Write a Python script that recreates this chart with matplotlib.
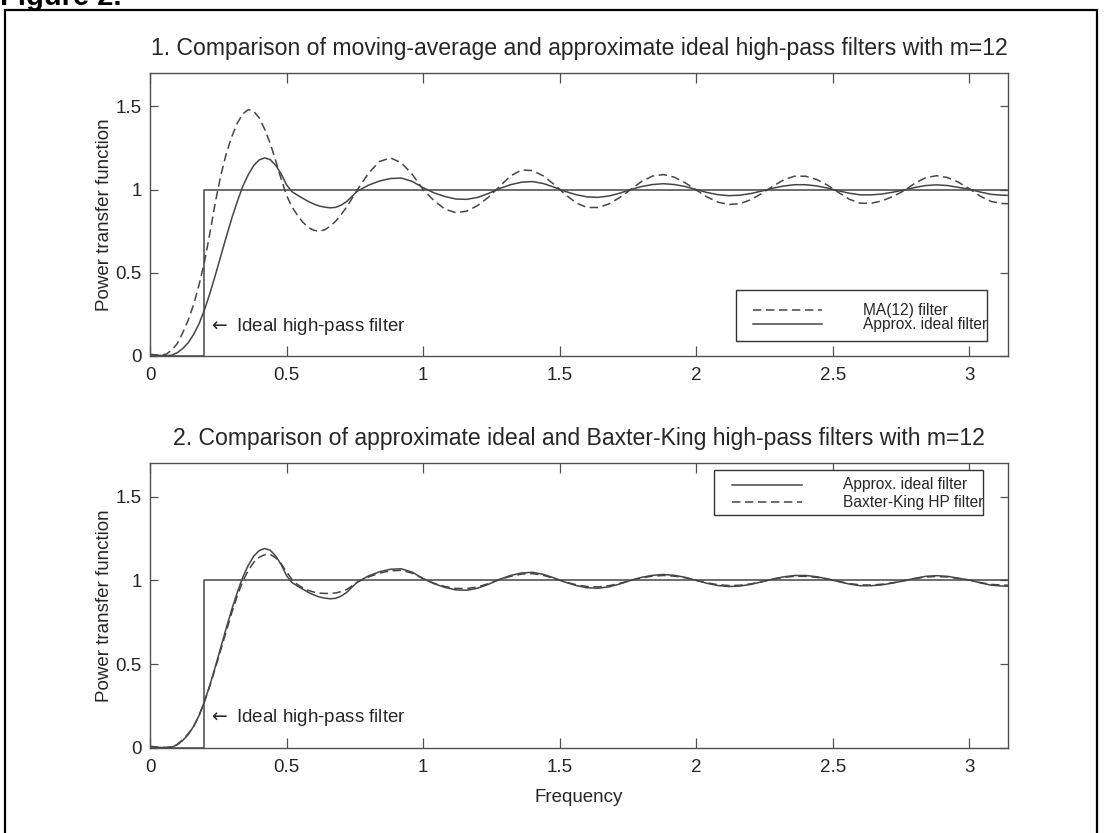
import matplotlib
matplotlib.use("Agg")
import matplotlib.pyplot as plt
from matplotlib.patches import Rectangle

plt.rcParams['font.family'] = ['Liberation Sans', 'DejaVu Sans']

# ---------------- data ----------------
freq = [0.00, 0.02, 0.04, 0.06, 0.08, 0.10, 0.12, 0.14, 0.16, 0.18,
        0.20, 0.22, 0.24, 0.26, 0.28, 0.30, 0.32, 0.34, 0.36, 0.38,
        0.40, 0.42, 0.44, 0.46, 0.48, 0.50, 0.52, 0.54, 0.56, 0.58,
        0.60, 0.62, 0.64, 0.66, 0.68, 0.70,
        0.72, 0.76,
        0.80, 0.84, 0.88, 0.92, 0.96, 1.00, 1.04, 1.08, 1.12, 1.16,
        1.20, 1.24, 1.28, 1.32, 1.36, 1.40, 1.44, 1.48, 1.52, 1.56,
        1.60, 1.64, 1.68, 1.72, 1.76, 1.80, 1.84, 1.88, 1.92, 1.96,
        2.00, 2.04, 2.08, 2.12, 2.16, 2.20, 2.24, 2.28, 2.32, 2.36,
        2.40, 2.44, 2.48, 2.52, 2.56, 2.60, 2.64, 2.68, 2.72, 2.76,
        2.80, 2.84, 2.88, 2.92, 2.96, 3.00, 3.04, 3.08, 3.12, 3.1416]

approx_ideal = [0.010, 0.006, 0.003, 0.002, 0.005, 0.020, 0.045, 0.080, 0.130, 0.195,
                0.280, 0.380, 0.490, 0.605, 0.720, 0.830, 0.930, 1.020, 1.090, 1.145,
                1.178, 1.190, 1.180, 1.146, 1.095, 1.028, 0.987, 0.966, 0.947, 0.928,
                0.913, 0.901, 0.894, 0.890, 0.893, 0.906,
                0.928, 0.991,
                1.026, 1.051, 1.066, 1.069, 1.049, 1.011, 0.980, 0.958, 0.943, 0.941,
                0.953, 0.977, 1.006, 1.029, 1.044, 1.048, 1.036, 1.014, 0.989, 0.969,
                0.956, 0.953, 0.961, 0.978, 1.000, 1.018, 1.030, 1.035, 1.030, 1.018,
                1.000, 0.982, 0.969, 0.963, 0.966, 0.976, 0.991, 1.008, 1.021, 1.029,
                1.029, 1.022, 1.009, 0.993, 0.978, 0.968, 0.968, 0.973, 0.984, 0.997,
                1.012, 1.024, 1.028, 1.024, 1.013, 1.002, 0.985, 0.971, 0.966, 0.965]

ma12 = [0.010, 0.006, 0.004, 0.012, 0.035, 0.075, 0.140, 0.215, 0.310, 0.430,
        0.570, 0.745, 0.930, 1.090, 1.220, 1.320, 1.400, 1.455, 1.480, 1.470,
        1.430, 1.362, 1.277, 1.175, 1.065, 0.965, 0.895, 0.845, 0.803, 0.772,
        0.755, 0.750, 0.758, 0.780, 0.810, 0.850,
        0.895, 1.000,
        1.098, 1.168, 1.190, 1.161, 1.092, 1.000, 0.933, 0.882, 0.861, 0.870,
        0.904, 0.955, 1.018, 1.082, 1.117, 1.114, 1.082, 1.030, 0.971, 0.920,
        0.892, 0.892, 0.913, 0.952, 1.000, 1.048, 1.081, 1.090, 1.074, 1.040,
        0.997, 0.955, 0.924, 0.910, 0.915, 0.939, 0.976, 1.019, 1.058, 1.080,
        1.080, 1.061, 1.027, 0.984, 0.942, 0.918, 0.917, 0.932, 0.958, 0.992,
        1.037, 1.071, 1.083, 1.072, 1.044, 1.005, 0.960, 0.928, 0.916, 0.915]

baxter_king = [0.010, 0.006, 0.004, 0.004, 0.008, 0.022, 0.050, 0.085, 0.130, 0.195,
               0.280, 0.375, 0.480, 0.590, 0.700, 0.810, 0.910, 0.995, 1.060, 1.108,
               1.138, 1.153, 1.155, 1.135, 1.100, 1.050, 1.005, 0.975, 0.955, 0.940,
               0.930, 0.924, 0.922, 0.922, 0.925, 0.933,
               0.945, 0.990,
               1.020, 1.043, 1.057, 1.060, 1.043, 1.010, 0.983, 0.963, 0.952, 0.951,
               0.961, 0.981, 1.005, 1.024, 1.037, 1.040, 1.030, 1.012, 0.991, 0.974,
               0.963, 0.961, 0.968, 0.982, 1.000, 1.015, 1.025, 1.029, 1.025, 1.015,
               1.000, 0.985, 0.974, 0.969, 0.971, 0.979, 0.992, 1.007, 1.018, 1.024,
               1.024, 1.018, 1.008, 0.994, 0.981, 0.973, 0.972, 0.977, 0.986, 0.997,
               1.010, 1.020, 1.023, 1.020, 1.011, 1.002, 0.987, 0.976, 0.972, 0.971]

ideal_x = [0.0, 0.19635, 0.19635, 3.14159]
ideal_y = [0.0, 0.0, 1.0, 1.0]

x_ticks = [0, 0.5, 1, 1.5, 2, 2.5, 3]
x_ticklabels = ['0', '0.5', '1', '1.5', '2', '2.5', '3']
y_ticks = [0, 0.5, 1, 1.5]
y_ticklabels = ['0', '0.5', '1', '1.5']

titles = ["1. Comparison of moving-average and approximate ideal high-pass filters with m=12",
          "2. Comparison of approximate ideal and Baxter-King high-pass filters with m=12"]
legend_top = ["MA(12) filter", "Approx. ideal filter"]
legend_bot = ["Approx. ideal filter", "Baxter-King HP filter"]
annotation = r"$\leftarrow$ Ideal high-pass filter"

# ---------------- styling ----------------
W, H = 1104, 833
LC = '#454545'
SC = '#505050'
TC = '#262626'
DASH = (0, (5.5, 3.0))

fig = plt.figure(figsize=(W / 100, H / 100), dpi=100)
fig.patch.set_facecolor('white')

# page border
fig.patches.append(Rectangle((5 / W, -0.05), (1097 - 5) / W, 1 - 10 / H + 0.05,
                             transform=fig.transFigure, fill=False,
                             edgecolor='black', linewidth=1.6))
fig.text(0.0, 1 - 5 / H, "Figure 2.", fontsize=21, fontweight='bold',
         ha='left', va='baseline', color='black')


def px_axes(left, top, right, bottom):
    return [left / W, 1 - bottom / H, (right - left) / W, (bottom - top) / H]


ax1 = fig.add_axes(px_axes(150, 73, 1008, 356))
ax2 = fig.add_axes(px_axes(150, 463, 1008, 748))


def style(ax, title):
    ax.set_xlim(0, 3.14159)
    ax.set_ylim(0, 1.7)
    ax.set_xticks(x_ticks)
    ax.set_xticklabels(x_ticklabels)
    ax.set_yticks(y_ticks)
    ax.set_yticklabels(y_ticklabels)
    ax.tick_params(axis='both', direction='in', top=True, right=True,
                   labelsize=13.5, colors=SC, labelcolor=TC, width=0.9)
    ax.tick_params(axis='x', length=7, pad=8)
    ax.tick_params(axis='y', length=6, pad=6)
    for s in ax.spines.values():
        s.set_color(SC)
        s.set_linewidth(1.0)
    ax.set_title(title, fontsize=16.6, color=TC, pad=13)
    ax.set_ylabel("Power transfer function", fontsize=13.5, color=TC, labelpad=1.5)
    ax.text(0.212, 0.18, annotation, fontsize=13.5,
            color=TC, ha='left', va='center')


def manual_legend(ax, box, rows, hx, tx, styles, labels):
    x0, y0, x1, y1 = box
    ax.add_patch(Rectangle((x0, y0), x1 - x0, y1 - y0, transform=ax.transAxes,
                           facecolor='white', edgecolor='#333333', linewidth=1.0,
                           zorder=5, clip_on=False))
    for yr, ls, lab in zip(rows, styles, labels):
        ax.plot(hx, [yr, yr], transform=ax.transAxes, color=LC, linewidth=1.1,
                linestyle=ls, zorder=6, clip_on=False)
        ax.text(tx, yr, lab, transform=ax.transAxes, fontsize=11.2, color=TC,
                ha='left', va='center', zorder=7)


# ---- panel 1 ----
ax1.plot(freq, ma12, color=LC, linewidth=1.1, linestyle=DASH)
ax1.plot(freq, approx_ideal, color=LC, linewidth=1.1)
ax1.plot(ideal_x, ideal_y, color=LC, linewidth=1.1)
style(ax1, titles[0])
manual_legend(ax1, (0.683, 0.053, 0.9755, 0.233), [0.1625, 0.113],
              [0.7028, 0.7832], 0.831, [DASH, '-'], legend_top)

# ---- panel 2 ----
ax2.plot(freq, approx_ideal, color=LC, linewidth=1.1)
ax2.plot(freq, baxter_king, color=LC, linewidth=1.1, linestyle=DASH)
ax2.plot(ideal_x, ideal_y, color=LC, linewidth=1.1)
style(ax2, titles[1])
ax2.set_xlabel("Frequency", fontsize=13.5, color=TC, labelpad=9)
manual_legend(ax2, (0.657, 0.8175, 0.971, 0.975), [0.923, 0.863],
              [0.678, 0.760], 0.8077, ['-', DASH], legend_bot)

fig.savefig("out.png", dpi=100, facecolor='white')
